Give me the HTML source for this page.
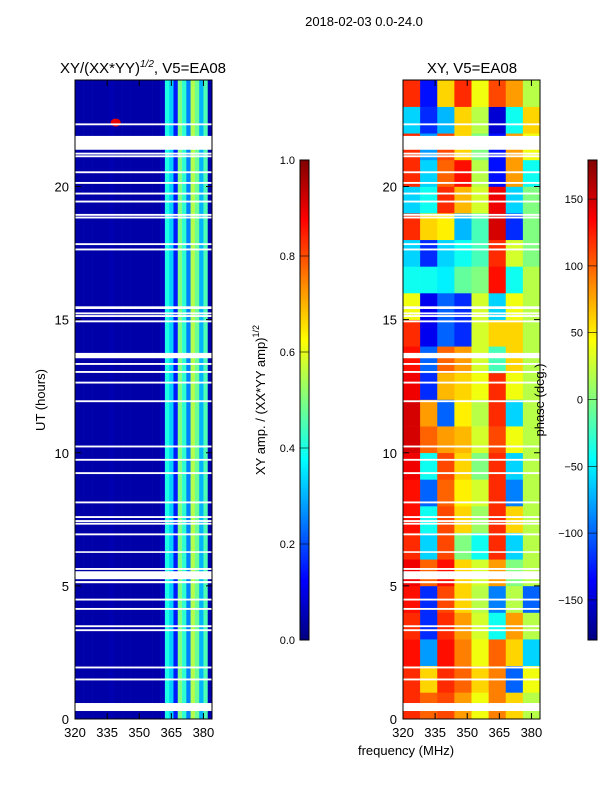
<!DOCTYPE html>
<html><head><meta charset="utf-8"><style>
body{margin:0;background:#fff;font-family:"Liberation Sans","DejaVu Sans",sans-serif;}
svg text{font-family:"Liberation Sans","DejaVu Sans",sans-serif;fill:#000;}
</style></head><body>
<svg id="fig" width="600" height="800" xmlns="http://www.w3.org/2000/svg">
<text x="364" y="26" font-size="13" text-anchor="middle">2018-02-03 0.0-24.0</text>
<text x="143" y="73" font-size="15" text-anchor="middle">XY/(XX*YY)<tspan font-size="10" dy="-6" font-style="italic">1/2</tspan><tspan dy="6">, V5=EA08</tspan></text>
<text x="472" y="73" font-size="15" text-anchor="middle">XY, V5=EA08</text>
<text font-size="13" text-anchor="middle" transform="translate(45,400) rotate(-90)">UT (hours)</text>
<text x="406" y="755" font-size="13" text-anchor="middle">frequency (MHz)</text>
<text font-size="13" text-anchor="middle" transform="translate(265,400) rotate(-90)">XY amp. / (XX*YY amp)<tspan font-size="9" dy="-6">1/2</tspan></text>
<g id="g"></g>
<text font-size="13" text-anchor="middle" transform="translate(544,400) rotate(-90)">phase (deg.)</text>
</svg>
<script>
const ampBinStart=[320,322,324,326,328,330,332,334,336,338,340,342,344,346,348,350,352,354,356,358,360,362,364,366,368,370,372,374,376,378,380,382];
const ampValues=[0.04,0.04,0.04,0.04,0.04,0.04,0.04,0.04,0.05,0.04,0.04,0.04,0.04,0.04,0.04,0.04,0.04,0.04,0.04,0.04,0.06,0.4,0.33,0.15,0.5,0.42,0.25,0.55,0.48,0.3,0.45,0.05];
const phaseFreqStart=[320,328,336,344,352,360,368,376];
const phaseValues=[
[120,100,110,80,40,90,60,20],[120,60,120,100,60,90,-100,40],[130,-80,130,90,40,100,60,-60],
[120,-120,120,80,30,-40,80,20],[130,-120,110,60,20,-90,20,-100],[140,100,130,60,30,80,0,20],
[120,-60,110,0,-40,120,-60,20],[130,-40,110,60,10,120,60,20],[130,-100,100,50,30,120,-90,20],
[140,-40,110,60,0,120,-60,20],[150,100,80,70,30,110,40,20],[150,80,-100,50,20,120,-60,20],
[140,-120,70,60,40,120,40,20],[130,-100,100,80,30,-20,60,20],[120,-140,-100,-120,30,60,60,20],
[40,-140,-100,-120,30,-60,40,20],[-40,-40,-50,-10,0,130,-40,20],[-60,-120,-60,-40,-20,120,30,0],
[120,60,50,-70,-20,150,-120,0],[-60,-40,120,70,30,140,-60,0],[120,-60,100,130,20,-130,80,-40],
[120,-80,110,60,0,-130,80,40],[-60,-120,-70,60,20,-150,-40,60],[120,-130,60,120,40,110,80,20]];
const gapStart=[0.3,1.45,1.9,3.3,3.45,4.1,4.45,5.1,5.25,5.6,6.24,6.9,7.3,7.4,7.55,8.1,9.2,9.7,10.2,11.9,12.6,13.0,13.3,13.55,14.9,15.1,15.2,15.4,17.6,17.8,18.8,18.9,19.4,19.7,20.1,20.5,21.1,21.2,21.38,22.3];
const gapEnd  =[0.6,1.52,1.97,3.37,3.52,4.17,4.52,5.18,5.55,5.67,6.3,6.97,7.37,7.47,7.62,8.17,9.27,9.77,10.27,11.97,12.67,13.07,13.37,13.75,14.97,15.17,15.27,15.5,17.67,17.87,18.87,18.97,19.47,19.77,20.17,20.57,21.17,21.27,21.9,22.37];
const ampTicks=[0,0.2,0.4,0.6,0.8,1.0];
const phaseTicks=[-150,-100,-50,0,50,100,150];
const freqTicks=[320,335,350,365,380];
const utTicks=[0,5,10,15,20];
const NS="http://www.w3.org/2000/svg",g=document.getElementById('g');
function el(t,a,p){const e=document.createElementNS(NS,t);for(const k in a)e.setAttribute(k,a[k]);(p||g).appendChild(e);return e;}
function jet(v){v=Math.max(0,Math.min(1,v));const f=x=>Math.round(255*Math.max(0,Math.min(1,1.5-Math.abs(4*v-x))));return `rgb(${f(3)},${f(2)},${f(1)})`;}
const yUT=u=>719-u*(639/24);
const xL=f=>75+(f-320)*(137/64), xR=f=>403+(f-320)*(137/64);
ampBinStart.forEach((f,i)=>{const r=el('rect',{x:xL(f),y:80,width:xL(f+2)-xL(f)+0.3,height:639,fill:jet(ampValues[i])});
});
const hs=el('ellipse',{cx:xL(339),cy:yUT(22.4),rx:5,ry:4,fill:jet(0.9)});

phaseValues.forEach((row,h)=>row.forEach((p,j)=>{const f=phaseFreqStart[j];
const r=el('rect',{x:xR(f),y:yUT(h+1),width:xR(f+8)-xR(f)+0.3,height:639/24+0.3,fill:jet((p+180)/360)});
}));
gapStart.forEach((s,i)=>{[xL,xR].forEach(X=>{const r=el('rect',{x:X(320),y:yUT(gapEnd[i]),width:137,height:yUT(s)-yUT(gapEnd[i]),fill:'#fff'});
});});
[[xL,'left'],[xR,'right']].forEach(([X,nm])=>{
const a=el('rect',{x:X(320),y:80,width:137,height:639,fill:'none',stroke:'#000'});

freqTicks.forEach(f=>{el('line',{x1:X(f),x2:X(f),y1:719,y2:713,stroke:'#000'});el('line',{x1:X(f),x2:X(f),y1:80,y2:86,stroke:'#000'});
const t=el('text',{x:X(f),y:737,'font-size':13,'text-anchor':'middle'});t.textContent=f;
});
utTicks.forEach(u=>{el('line',{x1:X(320),x2:X(320)+6,y1:yUT(u),y2:yUT(u),stroke:'#000'});el('line',{x1:X(320)+137,x2:X(320)+131,y1:yUT(u),y2:yUT(u),stroke:'#000'});
const t=el('text',{x:X(320)-6,y:yUT(u)+5,'font-size':13,'text-anchor':'end'});t.textContent=u;
});
});
const defs=el('defs',{});const lg=el('linearGradient',{id:'jg',x1:0,y1:1,x2:0,y2:0},defs);
for(let i=0;i<=40;i++)el('stop',{offset:i/40,'stop-color':jet(i/40)},lg);
[[300,'amp-colorbar'],[588,'phase-colorbar']].forEach(([x,nm])=>{const r=el('rect',{x:x,y:160,width:9,height:480,fill:'url(#jg)',stroke:'#000'});
});
ampTicks.forEach(v=>{const y=640-v*480;el('line',{x1:300,x2:309,y1:y,y2:y,stroke:'#000','stroke-width':0.6});
const t=el('text',{x:295,y:y+4,'font-size':11,'text-anchor':'end'});t.textContent=v.toFixed(1);
});
phaseTicks.forEach(v=>{const y=399.5-v*(481/360);el('line',{x1:588,x2:597,y1:y,y2:y,stroke:'#000','stroke-width':0.6});
const t=el('text',{x:583,y:y+4,'font-size':11,'text-anchor':'end'});t.textContent=v<0?'\u2212'+(-v):v;
});
</script>
</body></html>
